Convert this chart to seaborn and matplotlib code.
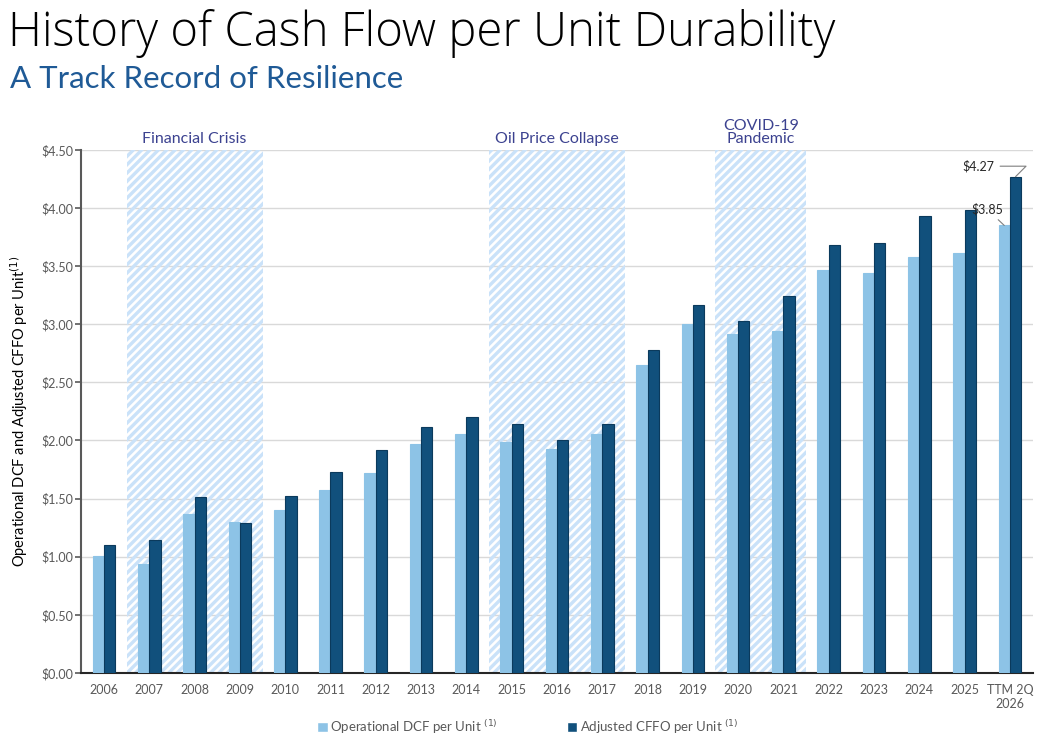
import pandas as pd
import matplotlib
matplotlib.use("Agg")
import matplotlib.pyplot as plt
import seaborn as sns
from matplotlib.patches import Patch

# data
periods = ["2006", "2007", "2008", "2009", "2010", "2011", "2012", "2013", "2014",
           "2015", "2016", "2017", "2018", "2019", "2020", "2021", "2022", "2023",
           "2024", "2025", "TTM 2Q\n2026"]
op_dcf = [1.01, 0.94, 1.37, 1.30, 1.40, 1.57, 1.72, 1.97, 2.06, 1.99, 1.93, 2.06,
          2.65, 3.00, 2.92, 2.94, 3.47, 3.44, 3.58, 3.61, 3.85]
adj_cffo = [1.10, 1.14, 1.51, 1.29, 1.52, 1.73, 1.92, 2.12, 2.20, 2.14, 2.00, 2.14,
            2.78, 3.17, 3.03, 3.24, 3.68, 3.70, 3.93, 3.98, 4.27]
series_names = ["Operational DCF per Unit", "Adjusted CFFO per Unit"]
events = ["Financial Crisis", "Oil Price Collapse", "COVID-19\nPandemic"]
event_start = ["2007", "2015", "2020"]
event_end = ["2009", "2017", "2021"]

df = pd.DataFrame({
    "period": periods * 2,
    "value": op_dcf + adj_cffo,
    "series": [series_names[0]] * len(periods) + [series_names[1]] * len(periods),
})

sns.set_style("white")
plt.rcParams["font.family"] = ["Lato", "DejaVu Sans"]
plt.rcParams["hatch.linewidth"] = 2.4

light = "#8dc3e6"
dark = "#11507c"
grey_txt = "#595959"
hatch_c = "#cae2f9"

fig = plt.figure(figsize=(10.43, 7.44), dpi=100)
ax = fig.add_axes([0.078, 0.0955, 0.912, 0.703])

# bars first so ax.patches holds only them
sns.barplot(data=df, x="period", y="value", hue="series", palette=[light, dark],
            width=0.5, ax=ax, zorder=3, legend=False, saturation=1)
bars = list(ax.patches)
for i, bar in enumerate(bars):
    if i < len(periods):
        bar.set_edgecolor(light)
    else:
        bar.set_edgecolor("#0b3a5c")
    bar.set_linewidth(0.8)

# shaded event periods
for name, s, e in zip(events, event_start, event_end):
    x0 = periods.index(s) - 0.5
    x1 = periods.index(e) + 0.5
    ax.axvspan(x0, x1, facecolor="none", edgecolor=hatch_c, hatch="////",
               linewidth=0, zorder=1)
    ax.text((x0 + x1) / 2, 4.53, name, ha="center", va="bottom", fontsize=11.5,
            color="#3c4290", linespacing=0.95)

ax.set_ylim(0, 4.5)
ax.set_xlim(-0.5, len(periods) - 0.5)
ax.set_yticks([i * 0.5 for i in range(10)])
ax.set_yticklabels([r"\$%.2f" % (i * 0.5) for i in range(10)], color=grey_txt, fontsize=9)
ax.yaxis.grid(True, color="#d9d9d9", linewidth=1, zorder=0)
ax.set_axisbelow(True)

ax.set_xticks(range(len(periods)))
ax.set_xticklabels(periods, color=grey_txt, fontsize=9)
ax.tick_params(axis="x", which="major", length=0, pad=8)
ax.set_xticks([i - 0.5 for i in range(len(periods) + 1)], minor=True)
ax.tick_params(axis="x", which="minor", length=5, width=1.2, color="#262626", direction="out")
ax.tick_params(axis="y", length=4, width=1.2, color="#595959", direction="out", pad=2, left=True)

for sp in ["top", "right"]:
    ax.spines[sp].set_visible(False)
ax.spines["left"].set_color("#595959")
ax.spines["left"].set_linewidth(1.5)
ax.spines["bottom"].set_color("#262626")
ax.spines["bottom"].set_linewidth(1.5)

ax.set_xlabel("")
ax.set_ylabel("Operational DCF and Adjusted CFFO per Unit$^{(1)}$", fontsize=10.5,
              color="black", labelpad=8)

# callouts on the last period
n = len(periods) - 1
ax.annotate("$4.27", xy=(n + 0.125, adj_cffo[-1]), xytext=(n - 0.35, 4.36),
            fontsize=9, ha="right", va="center",
            arrowprops=dict(arrowstyle="-", color="#7f7f7f", lw=0.8,
                            connectionstyle="angle,angleA=0,angleB=45,rad=0",
                            shrinkA=2, shrinkB=0))
ax.annotate("$3.85", xy=(n - 0.125, op_dcf[-1]), xytext=(n - 0.15, 3.99),
            fontsize=9, ha="right", va="center",
            arrowprops=dict(arrowstyle="-", color="#7f7f7f", lw=0.8,
                            shrinkA=1, shrinkB=0))

fig.text(0.008, 0.988, "History of Cash Flow per Unit Durability", fontsize=34,
         ha="left", va="top", color="black", family=["Open Sans", "DejaVu Sans"],
         fontweight="light")
fig.text(0.01, 0.912, "A Track Record of Resilience", fontsize=22.5, ha="left",
         va="top", color="#1f5a96")

handles = [Patch(facecolor=light), Patch(facecolor=dark)]
labels = [s + r" $^{(1)}$" for s in series_names]
leg = fig.legend(handles, labels, loc="lower center", bbox_to_anchor=(0.506, -0.005),
                 ncol=2, frameon=False, fontsize=9.5, handlelength=0.8,
                 handleheight=0.8, handletextpad=0.2, columnspacing=5.2)
for t in leg.get_texts():
    t.set_color(grey_txt)

fig.savefig("out.png", dpi=100)
